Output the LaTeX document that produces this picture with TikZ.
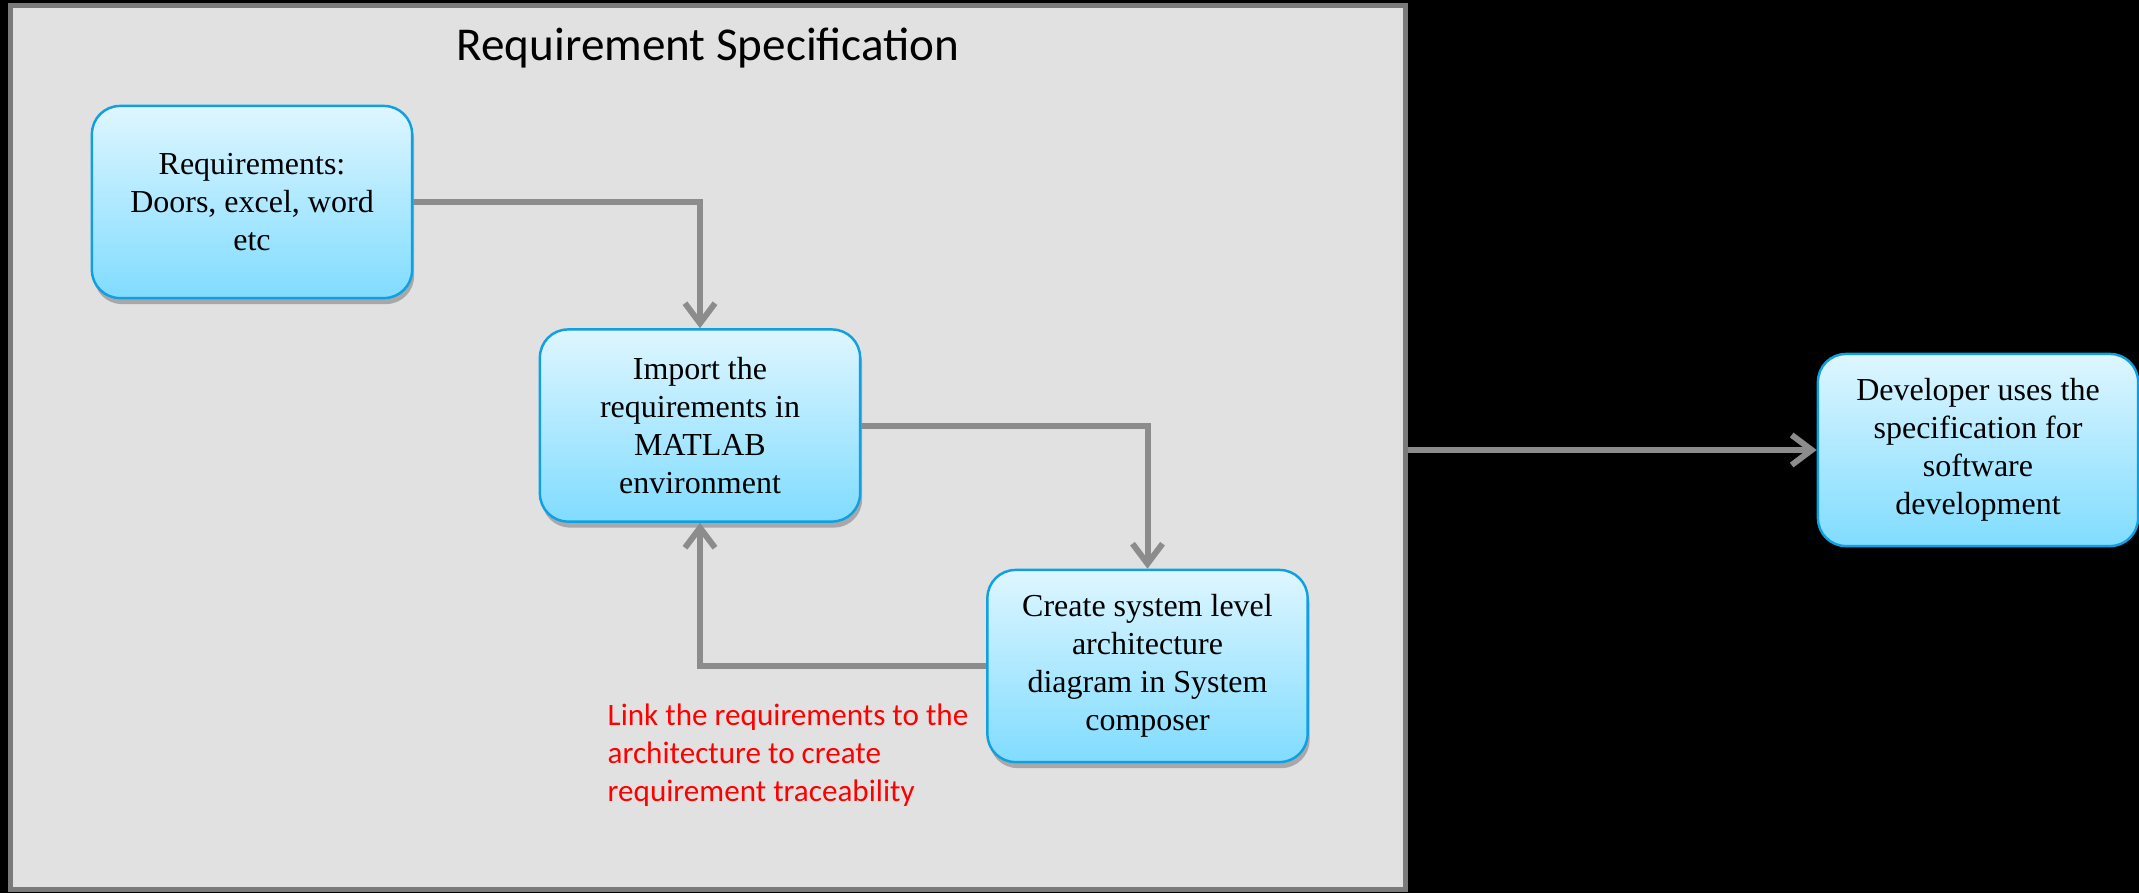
\documentclass[tikz,border=0pt]{standalone}
\usepackage{fontspec}
\setmainfont{Liberation Serif}
\newfontfamily\calib{Carlito}
\usetikzlibrary{arrows.meta,shadows}
\definecolor{boxtop}{RGB}{222,246,255}
\definecolor{boxbot}{RGB}{128,220,255}
\definecolor{boxedge}{RGB}{16,160,226}
\definecolor{panel}{RGB}{225,225,225}
\definecolor{paneledge}{RGB}{122,122,122}
\definecolor{arrowgray}{RGB}{140,140,140}
\begin{document}
\begin{tikzpicture}[x=0.01cm,y=-0.01cm,
  stepbox/.style={draw=boxedge, line width=0.7pt, rounded corners=2.8mm,
    top color=boxtop, bottom color=boxbot,
    minimum width=3.2cm, minimum height=1.92cm, align=center, inner sep=0pt,
    font=\fontsize{9.1}{10.8}\selectfont,
    drop shadow={shadow xshift=0.2mm, shadow yshift=-0.6mm, opacity=0.25, fill=black}},
  conn/.style={draw=arrowgray, line width=1.7pt, -{Straight Barb[length=2mm,width=3mm]}}]
\useasboundingbox (0,0) rectangle (2139,893);
\fill[black] (0,0) rectangle (2139,893);
\node[draw=paneledge, fill=panel, line width=1.5pt, minimum width=13.94cm, minimum height=8.83cm, inner sep=0pt] (spec) at (708,447.5) {};
\node[font=\calib\fontsize{13.4}{16}\selectfont] (title) at (708,48) {Requirement Specification};
\node[stepbox] (req) at (252,202) {Requirements:\\Doors, excel, word\\etc};
\node[stepbox] (imp) at (700,425.5) {Import the\\requirements in\\MATLAB\\environment};
\node[stepbox] (arch) at (1147.5,666) {Create system level\\architecture\\diagram in System\\composer};
\node[stepbox] (dev) at (1978,450) {Developer uses the\\specification for\\software\\development};
\node[anchor=west, align=left, text=red, inner sep=0pt, font=\calib\fontsize{8.85}{10.8}\selectfont] (link) at (607,755) {Link the requirements to the\\architecture to create\\requirement traceability};
\draw[conn] (req) -| (imp);
\draw[conn] (imp) -| (arch);
\draw[conn] (arch) -| (imp);
\draw[conn] (spec.east |- dev.west) -- (dev.west);
\end{tikzpicture}
\end{document}
